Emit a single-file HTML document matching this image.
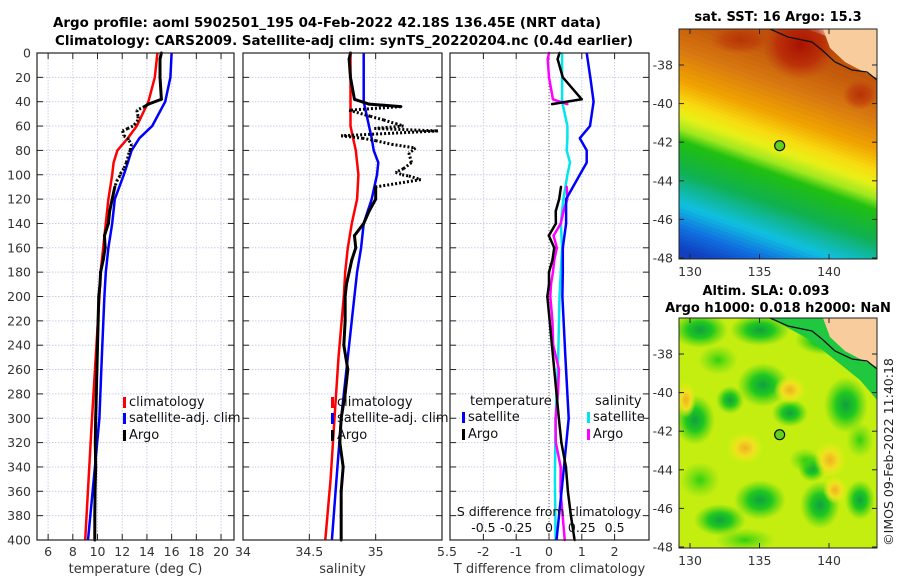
<!DOCTYPE html>
<html><head><meta charset="utf-8">
<style>
html,body{margin:0;padding:0;background:#fff;}
svg{display:block;font-family:"DejaVu Sans","Liberation Sans",sans-serif;}
</style></head>
<body>
<svg id="fig" width="900" height="580" viewBox="0 0 900 580" xmlns="http://www.w3.org/2000/svg">
<defs>
<radialGradient id="gblob"><stop offset="0" stop-color="#10a040"/><stop offset="0.45" stop-color="#20c820"/><stop offset="1" stop-color="#40d010" stop-opacity="0"/></radialGradient>
<radialGradient id="lblob"><stop offset="0" stop-color="#30d010"/><stop offset="1" stop-color="#60d810" stop-opacity="0"/></radialGradient>
<radialGradient id="oblob"><stop offset="0" stop-color="#f0b020"/><stop offset="0.5" stop-color="#f0e020"/><stop offset="1" stop-color="#e8f010" stop-opacity="0"/></radialGradient>
<radialGradient id="rblob"><stop offset="0" stop-color="#a81000"/><stop offset="0.6" stop-color="#b82808" stop-opacity="0.8"/><stop offset="1" stop-color="#c04010" stop-opacity="0"/></radialGradient>
<clipPath id="m1c"><rect x="679" y="29" width="198" height="230"/></clipPath>
<clipPath id="m2c"><rect x="679" y="318" width="198" height="230"/></clipPath>
</defs>
<text x="327" y="27" text-anchor="middle" font-size="13" font-weight="bold" textLength="548" lengthAdjust="spacingAndGlyphs">Argo profile: aoml 5902501_195 04-Feb-2022 42.18S 136.45E (NRT data)</text>
<text x="344" y="45" text-anchor="middle" font-size="13" font-weight="bold" textLength="578" lengthAdjust="spacingAndGlyphs">Climatology: CARS2009. Satellite-adj clim: synTS_20220204.nc (0.4d earlier)</text>
<g id="plots"></g>
</svg>
<script>
// ---------- data ----------
const climDepth = [0,20,40,60,70,80,90,100,120,140,160,180,200,250,300,350,400];
const climT = [14.85,14.64,14.12,13.18,12.45,11.61,11.30,11.19,10.88,10.67,10.46,10.25,10.15,9.85,9.55,9.28,9.0];
const satT  = [16.0,15.9,15.48,14.43,13.39,12.76,12.45,12.13,11.40,11.19,10.88,10.67,10.56,10.35,10.15,9.7,9.23];
const climS = [34.81,34.81,34.81,34.81,34.83,34.85,34.86,34.87,34.86,34.82,34.79,34.77,34.76,34.72,34.69,34.66,34.62];
const satS  = [34.91,34.91,34.91,34.95,34.97,34.985,35.02,35.01,34.97,34.91,34.89,34.86,34.84,34.79,34.74,34.705,34.67];
const argoDepth = [0,5,20,38,42,44,47,52,55,58,60,62,64,68,70,72,75,78,80,82,90,95,98,100,101,104,110,120,130,140,150,160,170,180,190,200,220,240,260,280,300,320,340,360,380,400];
const argoT = [15.17,15.06,15.06,15.17,14.12,13.81,13.18,13.28,13.28,13.07,12.86,12.45,12.03,12.13,12.45,12.55,12.76,12.66,12.66,12.55,12.34,12.13,11.92,11.82,11.82,11.61,11.40,11.19,10.98,10.88,10.56,10.62,10.46,10.25,10.2,10.1,10.05,10.0,9.95,9.9,9.85,9.82,9.85,9.8,9.78,9.78];
const argoS = [34.81,34.80,34.81,34.84,34.95,35.19,34.80,34.96,35.06,35.15,35.21,34.99,35.47,34.74,34.90,35.0,35.12,35.30,35.28,35.25,35.27,35.21,35.15,35.2,35.25,35.34,35.0,35.0,34.95,34.91,34.84,34.85,34.82,34.80,34.78,34.77,34.77,34.76,34.79,34.77,34.74,34.73,34.755,34.74,34.74,34.74];
const depthTicks = [0,20,40,60,80,100,120,140,160,180,200,220,240,260,280,300,320,340,360,380,400];
const tTicks = [6,8,10,12,14,16,18,20];
const sTicks = [34,34.5,35,35.5];
const sTickLabels = [34,34.5,35];
const dTTicks = [-2,-1,0,1,2];
const dSTicks = [-0.5,-0.25,0,0.25,0.5];
const latTicks = [-38,-40,-42,-44,-46,-48];
const lonTicks = [130,135,140];
const argoLon = 136.45, argoLat = -42.18;
// SST band colours keyed by latitude at the western edge (130E)
const sstBandLat = [-33.8,-35.6,-37.2,-38.8,-39.9,-40.6,-41.3,-41.9,-43.5,-44.4,-45.2,-46.4,-47.5,-50];
const sstBandCol = ['#b84a08','#c45a0c','#d87810','#f0a200','#f8dc10','#e8f018','#a0e820','#20c010','#10b050','#10b8a0','#10c0e0','#1070e0','#1040c0','#1040c0'];

// ---------- helpers ----------
const NS = "http://www.w3.org/2000/svg";
const root = document.getElementById('plots');
function mk(tag, attrs, parent){ const e=document.createElementNS(NS,tag); for(const k in attrs) e.setAttribute(k,attrs[k]); (parent||root).appendChild(e); return e; }
const Y0=53, Y1=540;
const yD = d => Y0 + d*(Y1-Y0)/400;
function lin(d0,d1,r0,r1){ return v => r0 + (v-d0)*(r1-r0)/(d1-d0); }
const xT = lin(5.1,21.05,37,234);
const xS = lin(34,35.5,243,442);
const xDT = lin(0,1,549,581.8);
const xDS = lin(0,0.5,549,614.6);
function interp(xs,ys,x){ for(let i=0;i<xs.length-1;i++){ if(x>=xs[i]&&x<=xs[i+1]){ const f=(x-xs[i])/(xs[i+1]-xs[i]); return ys[i]+f*(ys[i+1]-ys[i]); } } return ys[ys.length-1]; }
function pathFrom(depths, vals, xf){ return depths.map((d,i)=>(i?'L':'M')+xf(vals[i]).toFixed(1)+','+yD(d).toFixed(1)).join(''); }

function panel(name, x0, x1, ticksX, xf, labels, xlabel){
  const g = mk('g',{});
  
  
  for(const d of depthTicks){ const l=mk('line',{x1:x0,x2:x1,y1:yD(d),y2:yD(d),stroke:'#c8cde8','stroke-width':1,'stroke-dasharray':'1.5,1.5'},g);
     
    mk('line',{x1:x0,x2:x0+6,y1:yD(d),y2:yD(d),stroke:'#222'},g); mk('line',{x1:x1-6,x2:x1,y1:yD(d),y2:yD(d),stroke:'#222'},g); }
  for(const t of ticksX){ const x=xf(t); if(x>x0+1&&x<x1-1){ const l=mk('line',{x1:x,x2:x,y1:Y0,y2:Y1,stroke:'#c8cde8','stroke-dasharray':'1.5,1.5'},g);
        }
    mk('line',{x1:x,x2:x,y1:Y1,y2:Y1-6,stroke:'#222'},g); mk('line',{x1:x,x2:x,y1:Y0,y2:Y0+6,stroke:'#222'},g); }
  if(labels){ labels.forEach((t,i)=>{ const tx=mk('text',{x:xf(t),y:556,'text-anchor':'middle','font-size':12.5,fill:'#333'},g); tx.textContent=String(t);
      }); }
  if(xlabel){ const tx=mk('text',{x:(x0+x1)/2,y:573,'text-anchor':'middle','font-size':13,fill:'#333'},g); tx.textContent=xlabel;
      }
  return g;
}
function frame(x0,x1,name){ const r=mk('rect',{x:x0,y:Y0,width:x1-x0,height:Y1-Y0,fill:'none',stroke:'#222','stroke-width':1.2});
    }
function series(d, v, xf, color, name, w, dashFn){
  if(!dashFn){ const p=mk('path',{d:pathFrom(d,v,xf),fill:'none',stroke:color,'stroke-width':w||2.5,'stroke-linejoin':'round'});
      return; }
  for(let i=0;i<d.length-1;i++){ const dotted=dashFn(d[i],d[i+1]); if(dotted===null) continue;
    const p=mk('line',{x1:xf(v[i]),y1:yD(d[i]),x2:xf(v[i+1]),y2:yD(d[i+1]),stroke:color,'stroke-width':w||2.5,'stroke-linecap':dotted?'butt':'round','stroke-dasharray':dotted?'2,2':'none'});
      }
}
const argoDash = (a,b)=> (a>=42 && b<=110 && !(a===42&&b===44)) ? true : false;
const diffSkip = (a,b)=> (a>=42 && b<=110) ? null : false;

// y tick labels
depthTicks.forEach(d=>{ const t=mk('text',{x:31,y:yD(d)+4.5,'text-anchor':'end','font-size':12.5,fill:'#333'}); t.textContent=String(d);
    });

// Panel 1: temperature
panel('temperature-panel',37,234,tTicks,xT,tTicks,'temperature (deg C)');
series(climDepth,climT,xT,'#ff0000','climatology-temperature-line');
series(climDepth,satT,xT,'#0000ff','satellite-temperature-line');
series(argoDepth,argoT,xT,'#000','argo-temperature-line',3,argoDash);
frame(37,234,'temperature-axes');

// Panel 2: salinity
panel('salinity-panel',243,442,sTicks,xS,sTickLabels,'salinity');
series(climDepth,climS,xS,'#ff0000','climatology-salinity-line');
series(climDepth,satS,xS,'#0000ff','satellite-salinity-line');
series(argoDepth,argoS,xS,'#000','argo-salinity-line',3,argoDash);
frame(243,442,'salinity-axes');

// Panel 3: differences
panel('difference-panel',450,649,dTTicks,xDT,dTTicks,'T difference from climatology');
{ const t=mk('text',{x:447,y:556,'text-anchor':'middle','font-size':12.5,fill:'#333'}); t.textContent='5.5';
    }
const z=mk('line',{x1:549,x2:549,y1:Y0,y2:Y1,stroke:'#555','stroke-dasharray':'1,2'});
 
const satDT = climDepth.map((d,i)=>satT[i]-climT[i]);
const satDS = climDepth.map((d,i)=>satS[i]-climS[i]);
const argoDT = argoDepth.map((d,i)=>argoT[i]-interp(climDepth,climT,d));
const argoDS = argoDepth.map((d,i)=>argoS[i]-interp(climDepth,climS,d));
series(climDepth,satDS,xDS,'#00e5ee','satellite-salinity-diff-line');
series(argoDepth,argoDS,xDS,'#ff00ff','argo-salinity-diff-line',2.5,diffSkip);
series(climDepth,satDT,xDT,'#0000ff','satellite-temperature-diff-line');
series(argoDepth,argoDT,xDT,'#000','argo-temperature-diff-line',2.5,diffSkip);
{ const t=mk('text',{x:549,y:516,'text-anchor':'middle','font-size':12.5,fill:'#111'}); t.textContent='S difference from climatology';
    }
dSTicks.forEach(s=>{ const t=mk('text',{x:xDS(s),y:532,'text-anchor':'middle','font-size':12.5,fill:'#111'});
  t.textContent = String(s);
    });
frame(450,649,'difference-axes');

// legends
function legend(x, y, color, label, name){
  const r=mk('rect',{x:x,y:y-9,width:3,height:11,fill:color});  
  const t=mk('text',{x:x+6,y:y,'font-size':13,fill:'#111'}); t.textContent=label;  
}
legend(123,406,'#ff0000','climatology','legend-climatology');
legend(123,422,'#0000ff','satellite-adj. clim','legend-satellite');
legend(123,439,'#000','Argo','legend-argo');
legend(331,406,'#ff0000','climatology','legend-climatology-s');
legend(331,422,'#0000ff','satellite-adj. clim','legend-satellite-s');
legend(331,439,'#000','Argo','legend-argo-s');
{ const t=mk('text',{x:470,y:405,'font-size':13,fill:'#111'}); t.textContent='temperature';   }
{ const t=mk('text',{x:595,y:405,'font-size':13,fill:'#111'}); t.textContent='salinity';   }
legend(462,421,'#0000ff','satellite','legend-t-satellite');
legend(462,438,'#000','Argo','legend-t-argo');
legend(587,421,'#00e5ee','satellite','legend-s-satellite');
legend(587,438,'#ff00ff','Argo','legend-s-argo');

// ---------- maps ----------
const mx = lin(130,140,690,829);
function mapAxes(top, latRef, name){
  const my = lat => latRef + (-38-lat)*19.3;
  latTicks.forEach(l=>{ const y=my(l);
    mk('line',{x1:679,x2:684,y1:y,y2:y,stroke:'#222'}); mk('line',{x1:872,x2:877,y1:y,y2:y,stroke:'#222'});
    const t=mk('text',{x:673,y:y+4.5,'text-anchor':'end','font-size':12.5,fill:'#333'}); t.textContent=String(l);
      });
  lonTicks.forEach(l=>{ const x=mx(l);
    mk('line',{x1:x,x2:x,y1:top+230,y2:top+225,stroke:'#222'}); mk('line',{x1:x,x2:x,y1:top,y2:top+5,stroke:'#222'});
    const t=mk('text',{x:x,y:top+247,'text-anchor':'middle','font-size':12.5,fill:'#333'}); t.textContent=String(l);
      });
  const f=mk('rect',{x:679,y:top,width:198,height:230,fill:'none',stroke:'#222'});
   
  const c=mk('circle',{cx:mx(argoLon),cy:my(argoLat),r:5,fill:'#60d020',stroke:'#111','stroke-width':1.2});
   
  return my;
}
function hex2rgb(h){ return [1,3,5].map(i=>parseInt(h.substr(i,2),16)); }
function mixCol(a,b,f){ const A=hex2rgb(a),B=hex2rgb(b); return 'rgb('+A.map((v,i)=>Math.round(v+(B[i]-v)*f)).join(',')+')'; }
// SST map: tilted bands, drawn as solid parallelogram strips
const g1=mk('g',{'clip-path':'url(#m1c)'});  
const sstY = lat => 65 + (-38-lat)*19.3;
const tilt = 70;
for(let i=0;i<sstBandLat.length-1;i++){
  const ya=sstY(sstBandLat[i]), yb=sstY(sstBandLat[i+1]);
  const n=6;
  for(let k=0;k<n;k++){
    const a=ya+(yb-ya)*k/n, b=ya+(yb-ya)*(k+1)/n+0.8;
    const p=mk('polygon',{points:`679,${a} 877,${a+tilt} 877,${b+tilt} 679,${b}`,fill:mixCol(sstBandCol[i],sstBandCol[i+1],(k+0.5)/n)},g1);
    
    
  }
}
mk('ellipse',{cx:800,cy:45,rx:38,ry:35,fill:'url(#rblob)'},g1);
mk('ellipse',{cx:740,cy:40,rx:30,ry:14,fill:'url(#rblob)',opacity:0.5},g1);
mk('ellipse',{cx:860,cy:95,rx:18,ry:15,fill:'url(#rblob)',opacity:0.6},g1);
function land(g,dy){
  mk('polygon',{points:[[823,29],[877,29],[877,78],[860,70],[845,62],[830,48]].map(p=>p[0]+','+(p[1]+dy)).join(' '),fill:'#f8cc9c'},g);
  const c=mk('polyline',{points:[[770,29],[788,37],[812,42],[822,50],[835,62],[852,70],[867,72],[877,80],[877,103]].map(p=>p[0]+','+(p[1]+dy)).join(' '),fill:'none',stroke:'#111','stroke-width':1.3},g);
   
}
land(g1,0);
mapAxes(29,65,'sst-map');
{ const t=mk('text',{x:778,y:21,'text-anchor':'middle','font-size':13,'font-weight':'bold'}); t.textContent='sat. SST: 16 Argo: 15.3';   }
// SLA map
const g2=mk('g',{'clip-path':'url(#m2c)'});  
mk('rect',{x:679,y:318,width:198,height:230,fill:'#c4ee10'},g2);
[[700,330,28,18],[760,330,30,16],[695,420,20,25],[763,385,26,22],[846,405,22,28],[790,413,18,14],[760,500,26,20],[820,505,20,24],[720,520,26,16],[730,400,14,14],[860,500,15,20],[825,340,30,15],[812,468,14,14]].forEach(b=>mk('ellipse',{cx:b[0],cy:b[1],rx:b[2],ry:b[3],fill:'url(#gblob)'},g2));
[[718,360,20,15],[700,480,20,18],[860,440,14,18],[805,460,16,12],[745,540,30,12]].forEach(b=>mk('ellipse',{cx:b[0],cy:b[1],rx:b[2],ry:b[3],fill:'url(#lblob)'},g2));
[[745,448,18,16],[830,460,16,18],[790,390,16,14],[835,490,12,14],[686,400,10,18]].forEach(b=>mk('ellipse',{cx:b[0],cy:b[1],rx:b[2],ry:b[3],fill:'url(#oblob)'},g2));
mk('polygon',{points:'770,318 877,318 877,400 860,380 835,360 810,340',fill:'#20c840'},g2);
land(g2,289);
mapAxes(318,354,'sla-map');
{ const t=mk('text',{x:766,y:295,'text-anchor':'middle','font-size':13,'font-weight':'bold'}); t.textContent='Altim. SLA: 0.093';   }
{ const t=mk('text',{x:778,y:312,'text-anchor':'middle','font-size':13,'font-weight':'bold'}); t.textContent='Argo h1000: 0.018 h2000: NaN';   }
{ const t=mk('text',{x:0,y:0,'text-anchor':'middle','font-size':12.5,fill:'#222',transform:'translate(893,452) rotate(-90)'}); t.textContent='©IMOS 09-Feb-2022 11:40:18';   }
</script>
</body></html>
